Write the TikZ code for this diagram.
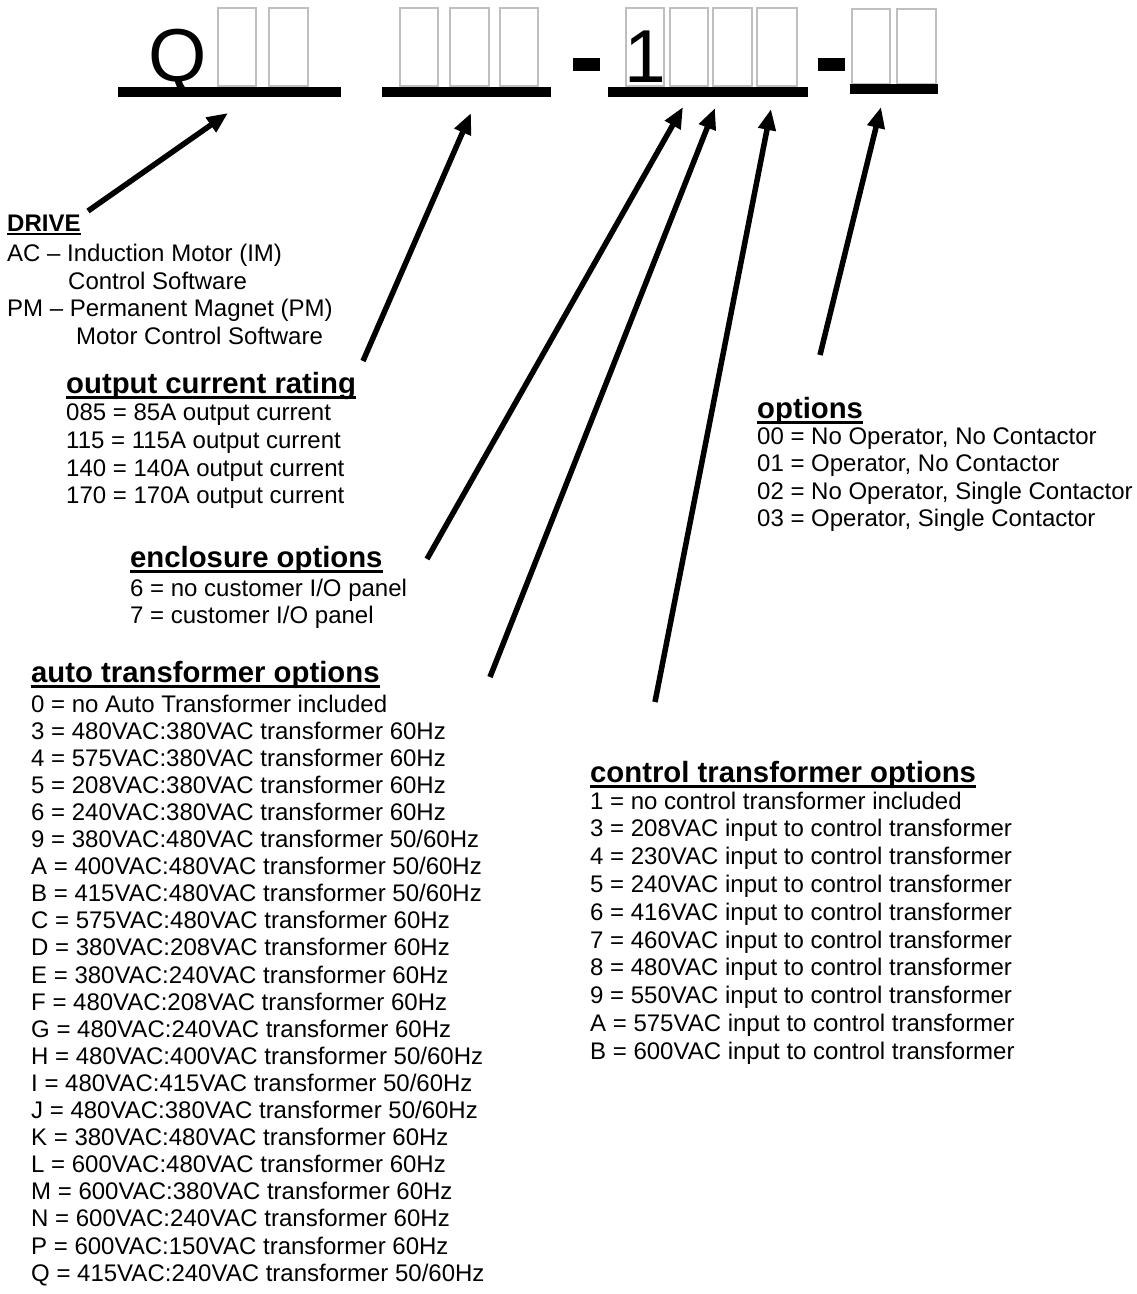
\documentclass[tikz,border=0pt]{standalone}
\usepackage{fontspec}
\setmainfont{Liberation Sans}
\usetikzlibrary{arrows.meta}
\begin{document}
\begin{tikzpicture}[x=1pt,y=-1pt,
  item/.style={font=\fontsize{24}{27.4}\selectfont, inner sep=0pt, anchor=base west},
  head/.style={font=\bfseries\fontsize{29.3}{32}\selectfont, inner sep=0pt, anchor=base west},
  smallhead/.style={font=\bfseries\fontsize{24}{27}\selectfont, inner sep=0pt, anchor=base west},
  big/.style={font=\fontsize{75}{80}\selectfont, inner sep=0pt, anchor=base west},
  ul/.style={line width=3pt},
  slot/.style={draw=black!25, line width=1.5pt},
  bar/.style={fill=black, draw=none},
  pointer/.style={line width=5.5pt, -{Triangle[length=21pt,width=17pt]}}]
\useasboundingbox[fill=white] (0,0) rectangle (1137,1294);

% ---- part number ----
\node[big] (Q) at (148,81) {Q};
\node[big] (one) at (624,82) {1};
\foreach \a/\b in {218/256,269/308,400/438,450/489,500/538,626/664,670/708,713/752,757/797}
  \draw[slot] (\a,8) rectangle (\b,86);
\foreach \a/\b in {852/890,897/936}
  \draw[slot] (\a,9) rectangle (\b,84);
\fill[bar] (118,87) rectangle (341,97);
\fill[bar] (382,87) rectangle (551,97);
\fill[bar] (608,87) rectangle (808,97);
\fill[bar] (850,84) rectangle (938,94);
\fill[bar] (573,58) rectangle (600,71);
\fill[bar] (818,58) rectangle (845,71);

% ---- DRIVE ----
\node[smallhead] (drive) at (7,231) {DRIVE};
\draw[line width=2.2pt] ([yshift=-2.6pt]drive.base west) -- ([yshift=-2.6pt]drive.base east);
\node[item] (d1) at (7,261.5) {AC – Induction Motor (IM)};
\node[item] (d2) at (68,289) {Control Software};
\node[item] (d3) at (7,316.5) {PM – Permanent Magnet (PM)};
\node[item] (d4) at (76,344) {Motor Control Software};

% ---- output current rating ----
\node[head] (ocr) at (66,393) {output current rating};
\draw[ul] ([yshift=-4pt]ocr.base west) -- ([yshift=-4pt]ocr.base east);
\foreach [count=\i] \t in {085 = 85A output current,115 = 115A output current,140 = 140A output current,170 = 170A output current}
  \node[item] (ocr\i) at (66,{420.5+27.8*(\i-1)}) {\t};

% ---- enclosure options ----
\node[head] (enc) at (130,567) {enclosure options};
\draw[ul] ([yshift=-4pt]enc.base west) -- ([yshift=-4pt]enc.base east);
\node[item] (enc1) at (130,596) {6 = no customer I/O panel};
\node[item] (enc2) at (130,623.5) {7 = customer I/O panel};

% ---- auto transformer options ----
\node[head] (auto) at (31,682) {auto transformer options};
\draw[ul] ([yshift=-4pt]auto.base west) -- ([yshift=-4pt]auto.base east);
\foreach [count=\i] \t in {0 = no Auto Transformer included,
  3 = 480VAC:380VAC transformer 60Hz,
  4 = 575VAC:380VAC transformer 60Hz,
  5 = 208VAC:380VAC transformer 60Hz,
  6 = 240VAC:380VAC transformer 60Hz,
  9 = 380VAC:480VAC transformer 50/60Hz,
  A = 400VAC:480VAC transformer 50/60Hz,
  B = 415VAC:480VAC transformer 50/60Hz,
  C = 575VAC:480VAC transformer 60Hz,
  D = 380VAC:208VAC transformer 60Hz,
  E = 380VAC:240VAC transformer 60Hz,
  F = 480VAC:208VAC transformer 60Hz,
  G = 480VAC:240VAC transformer 60Hz,
  H = 480VAC:400VAC transformer 50/60Hz,
  I = 480VAC:415VAC transformer 50/60Hz,
  J = 480VAC:380VAC transformer 50/60Hz,
  K = 380VAC:480VAC transformer 60Hz,
  L = 600VAC:480VAC transformer 60Hz,
  M = 600VAC:380VAC transformer 60Hz,
  N = 600VAC:240VAC transformer 60Hz,
  P = 600VAC:150VAC transformer 60Hz,
  Q = 415VAC:240VAC transformer 50/60Hz}
  \node[item] (auto\i) at (31,{712+27.1*(\i-1)}) {\t};

% ---- options ----
\node[head] (opt) at (757,418) {options};
\draw[ul] ([yshift=-4pt]opt.base west) -- ([yshift=-4pt]opt.base east);
\foreach [count=\i] \t in {{00 = No Operator, No Contactor},{01 = Operator, No Contactor},{02 = No Operator, Single Contactor},{03 = Operator, Single Contactor}}
  \node[item] (opt\i) at (757,{444+27.6*(\i-1)}) {\t};

% ---- control transformer options ----
\node[head] (ctl) at (590,782) {control transformer options};
\draw[ul] ([yshift=-4pt]ctl.base west) -- ([yshift=-4pt]ctl.base east);
\foreach [count=\i] \t in {1 = no control transformer included,
  3 = 208VAC input to control transformer,
  4 = 230VAC input to control transformer,
  5 = 240VAC input to control transformer,
  6 = 416VAC input to control transformer,
  7 = 460VAC input to control transformer,
  8 = 480VAC input to control transformer,
  9 = 550VAC input to control transformer,
  A = 575VAC input to control transformer,
  B = 600VAC input to control transformer}
  \node[item] (ctl\i) at (590,{809+27.8*(\i-1)}) {\t};

% ---- pointers ----
\coordinate (t1) at (88,211);  \coordinate (h1) at (228,113);
\coordinate (t2) at (363,361); \coordinate (h2) at (471,113);
\coordinate (t3) at (427,559); \coordinate (h3) at (683,107);
\coordinate (t4) at (490,677); \coordinate (h4) at (715,108);
\coordinate (t5) at (655,702); \coordinate (h5) at (771,109);
\coordinate (t6) at (820,355); \coordinate (h6) at (881,107);
\foreach \k in {1,...,6}
  \draw[pointer] (t\k) -- (h\k);
\end{tikzpicture}
\end{document}
